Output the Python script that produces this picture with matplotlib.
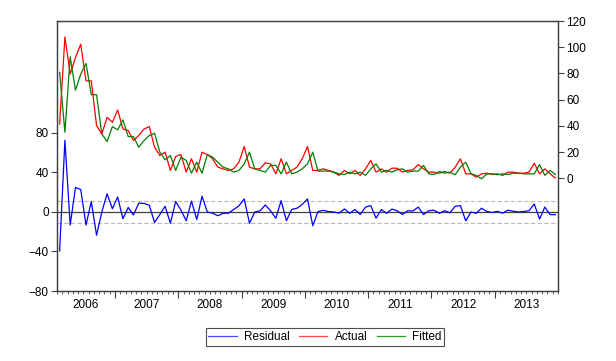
import numpy as np
import matplotlib
matplotlib.use("Agg")
import matplotlib.pyplot as plt
import matplotlib.transforms as mtransforms
from matplotlib.lines import Line2D

plt.rcParams['font.family'] = ['Liberation Sans', 'DejaVu Sans']

# monthly data, 2006M02 - 2013M12
start_year, start_month = 2006, 2

actual = [41.5, 107.8, 79.5, 92.1, 102.3, 74.4, 74.4, 40.3, 33.9, 46.6,
          42.8, 52.2, 37.7, 36.5, 28.9, 32.7, 37.7, 39.5, 23.8, 17.5,
          20.0, 6.1, 16.7, 18.2, 4.8, 15.0, 4.8, 20.0, 18.2, 15.0,
          8.6, 7.3, 6.1, 7.3, 12.4, 24.3, 8.6, 7.3, 7.3, 11.9,
          11.1, 3.5, 15.0, 3.5, 6.1, 8.6, 15.0, 24.3, 6.1, 6.1,
          7.3, 6.1, 4.8, 2.3, 6.1, 3.5, 6.1, 2.3, 7.3, 13.7,
          4.8, 7.3, 4.8, 7.8, 7.8, 4.8, 6.1, 6.6, 10.6, 7.3,
          4.8, 4.8, 4.0, 5.3, 4.0, 8.6, 15.0, 3.5, 3.5, 1.0,
          3.5, 4.0, 3.0, 3.5, 2.3, 4.8, 4.8, 4.0, 4.0, 4.8,
          11.6, 3.5, 7.3, 3.5, 0.3]

fitted = [80.8, 35.2, 92.7, 67.3, 79.5, 87.6, 63.8, 63.8, 33.9, 28.1,
          39.5, 37.0, 44.6, 31.9, 31.9, 23.8, 28.9, 32.7, 34.4, 20.0,
          14.2, 17.5, 6.1, 16.2, 13.7, 4.0, 12.4, 4.0, 18.2, 16.2,
          12.4, 8.6, 7.3, 4.8, 6.1, 11.1, 20.0, 7.3, 6.1, 4.8,
          9.9, 9.9, 3.5, 12.4, 3.5, 4.8, 7.3, 11.1, 20.0, 5.6,
          5.6, 5.6, 4.8, 3.5, 3.0, 4.8, 3.5, 4.8, 2.3, 7.3,
          11.1, 4.8, 6.1, 4.8, 6.6, 7.3, 4.8, 5.6, 5.6, 9.9,
          3.5, 3.0, 5.3, 4.0, 4.8, 2.8, 8.6, 12.4, 3.5, 2.3,
          -0.3, 3.5, 3.5, 2.8, 3.5, 3.0, 4.0, 4.0, 3.5, 3.5,
          3.5, 10.6, 2.3, 6.1, 3.0]

residual = [-39.3, 72.6, -13.2, 24.8, 22.8, -13.2, 10.6, -23.5, 0.0, 18.5,
            3.3, 15.2, -6.9, 4.6, -3.0, 8.9, 8.8, 6.8, -10.6, -2.5,
            5.8, -11.4, 10.6, 2.0, -8.9, 11.0, -7.6, 16.0, 0.0, -1.2,
            -3.8, -1.3, -1.2, 2.5, 6.3, 13.2, -11.4, 0.0, 1.2, 7.1,
            1.2, -6.4, 11.5, -8.9, 2.6, 3.8, 7.7, 13.2, -13.9, 0.5,
            1.7, 0.5, 0.0, -1.2, 3.1, -1.3, 2.6, -2.5, 5.0, 6.4,
            -6.3, 2.5, -1.3, 3.0, 1.2, -2.5, 1.3, 1.0, 5.0, -2.6,
            1.3, 1.8, -1.3, 1.3, -0.8, 5.8, 6.4, -8.9, 0.0, -1.3,
            3.8, 0.5, -0.5, 0.7, -1.2, 1.8, 0.8, 0.0, 0.5, 1.3,
            8.1, -7.1, 5.0, -2.6, -2.7]

resid_se = 11.6
years = list(range(2006, 2014))

n = len(actual)
x = np.arange(n)

fig = plt.figure(figsize=(6.16, 3.61), dpi=100)
ax = fig.add_axes([57/616, 1 - 291/361, (558 - 57)/616, (291 - 21)/361])
ax2 = ax.twinx()

edge = '#404040'
for a in (ax, ax2):
    for s in a.spines.values():
        s.set_color(edge)
        s.set_linewidth(0.9)

# residual panel (left axis)
ax.axhline(0, color='#404040', lw=0.9, zorder=1)
ax.axhline(resid_se, color='#b8b8b8', lw=0.8, ls=(0, (4, 2)), zorder=1)
ax.axhline(-resid_se, color='#b8b8b8', lw=0.8, ls=(0, (4, 2)), zorder=1)
ax.plot(x, residual, color='#0000ff', lw=0.9, zorder=2)
ax.set_ylim(-80, 193.4)
ax.set_yticks([-80, -40, 0, 40, 80])
ax.set_xlim(-0.5, n - 0.5)

# actual / fitted (right axis)
ax2.plot(x, actual, color='#ff0000', lw=0.9)
ax2.plot(x, fitted, color='#008000', lw=0.9)
ax2.set_ylim(-85.8, 119.3)
ax2.set_yticks(range(0, 121, 20))

# x axis: month ticks, year ticks, year labels
first_jan = (12 - start_month + 1) % 12  # index of first January
bounds = [first_jan - 0.5 + 12 * k for k in range(len(years)) if first_jan - 0.5 + 12 * k < n - 0.5]
ax.set_xticks(bounds)
ax.set_xticklabels([''] * len(bounds))
ax.set_xticks(np.arange(-0.5, n, 1.0), minor=True)
ax.tick_params(axis='x', which='major', direction='out', length=5, width=0.8, color=edge)
ax.tick_params(axis='x', which='minor', direction='out', length=2.5, width=0.6, color=edge)

edges = [-0.5] + bounds + [n - 0.5]
trans = mtransforms.blended_transform_factory(ax.transData, ax.transAxes)
for yr, lo, hi in zip(years, edges[:-1], edges[1:]):
    ax.text((lo + hi) / 2, -0.028, str(yr), transform=trans, ha='center', va='top', fontsize=8.5)

ax.tick_params(axis='y', direction='out', length=4, width=0.8, color=edge, labelsize=8.5, pad=2)
ax2.tick_params(axis='y', direction='out', length=4, width=0.8, color=edge, labelsize=8.5, pad=2)

handles = [Line2D([], [], color='#4a4aff', lw=0.9),
           Line2D([], [], color='#ff4a4a', lw=0.9),
           Line2D([], [], color='#2e9a2e', lw=0.9)]
leg = fig.legend(handles, ['Residual', 'Actual', 'Fitted'], loc='center',
                 bbox_to_anchor=(325/616, 1 - 337/361), ncol=3, fontsize=8.5,
                 frameon=True, fancybox=False, handlelength=2.4, handletextpad=0.6,
                 columnspacing=0.8, borderpad=0.25, borderaxespad=0)
leg.get_frame().set_edgecolor('#202020')
leg.get_frame().set_linewidth(0.8)

plt.savefig('out.png', dpi=100)
